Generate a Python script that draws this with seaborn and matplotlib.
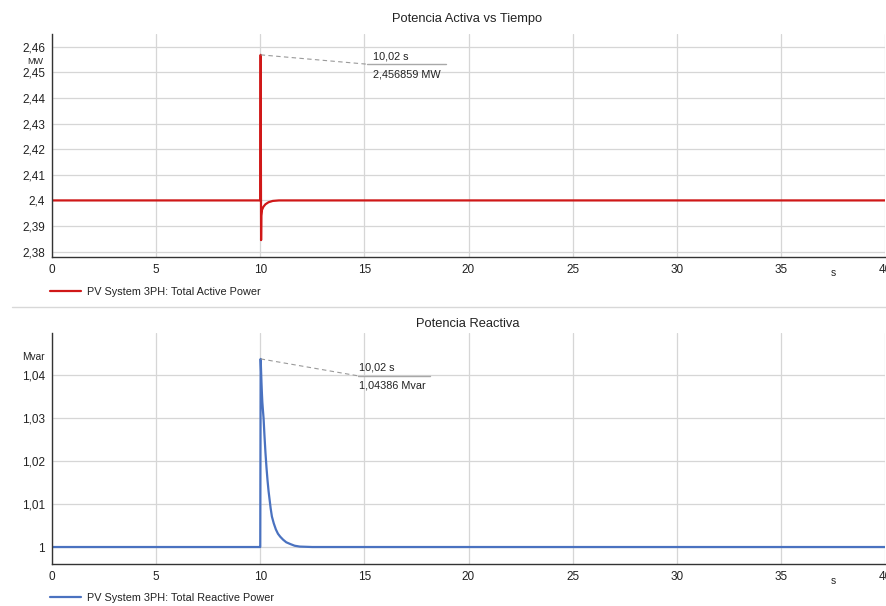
import matplotlib
matplotlib.use("Agg")
import matplotlib.pyplot as plt
from matplotlib.lines import Line2D
from matplotlib.ticker import MultipleLocator, FuncFormatter
import seaborn as sns
import pandas as pd

# Active power samples (s, MW)
t_active = [0.0, 9.99, 10.0, 10.02, 10.03, 10.04, 10.05, 10.08, 10.15, 10.25,
            10.4, 10.6, 10.9, 20.0, 30.0, 40.0]
p_active = [2.4, 2.4, 2.4, 2.456859, 2.42, 2.3845, 2.394, 2.3962, 2.3975, 2.3985,
            2.3993, 2.3998, 2.4, 2.4, 2.4, 2.4]

# Reactive power samples (s, Mvar)
t_reactive = [0.0, 9.99, 10.0, 10.02, 10.04, 10.06, 10.08, 10.1, 10.13, 10.16,
              10.2, 10.25, 10.3, 10.35, 10.4, 10.45, 10.5, 10.56, 10.65, 10.75,
              10.85, 10.96, 11.1, 11.25, 11.44, 11.65, 11.9, 12.5, 20.0, 30.0, 40.0]
q_reactive = [1.0, 1.0, 1.0, 1.04386, 1.0410, 1.0382, 1.0358, 1.0338, 1.0318, 1.0300,
              1.0262, 1.0220, 1.0185, 1.0155, 1.0130, 1.0110, 1.0090, 1.0071, 1.0055, 1.0041,
              1.0031, 1.0024, 1.0017, 1.0011, 1.0007, 1.0003, 1.0001, 1.0, 1.0, 1.0, 1.0]

x_ticks = [0, 5, 10, 15, 20, 25, 30, 35, 40]
active_ticks = [2.38, 2.39, 2.40, 2.41, 2.42, 2.43, 2.44, 2.45, 2.46]
reactive_ticks = [1.00, 1.01, 1.02, 1.03, 1.04]

peak_t = 10.02
peak_active = 2.456859
peak_reactive = 1.04386

active_label = "PV System 3PH: Total Active Power"
reactive_label = "PV System 3PH: Total Reactive Power"

sns.set_style("white")
plt.rcParams["font.family"] = ["Liberation Sans", "DejaVu Sans"]

RED = "#d01818"
BLUE = "#4a72c0"
GRID = "#d6d6d6"
TXT = "#222222"

fig = plt.figure(figsize=(8.87, 6.06), dpi=100)
W, H = 887, 606


def px_axes(l, t, r, b):
    return fig.add_axes([l / W, 1 - b / H, (r - l) / W, (b - t) / H])


def comma(v, _pos=None):
    return f"{v:g}".replace(".", ",")


def style_axes(ax, ylim, yticks, unit, unit_x, unit_y, unit_size):
    ax.set_xlim(0, 40)
    ax.set_ylim(*ylim)
    ax.set_xticks(x_ticks)
    ax.set_yticks(yticks)
    ax.xaxis.set_minor_locator(MultipleLocator(1.25))
    ax.yaxis.set_minor_locator(MultipleLocator(0.0025))
    ax.xaxis.set_major_formatter(FuncFormatter(comma))
    ax.yaxis.set_major_formatter(FuncFormatter(comma))
    ax.grid(True, which="major", color=GRID, linewidth=0.9)
    ax.tick_params(which="major", length=0, labelsize=8.5, labelcolor=TXT, pad=5)
    ax.tick_params(which="minor", direction="in", length=3, color="#c8c8c8", width=0.8)
    for s in ["top", "right"]:
        ax.spines[s].set_visible(False)
    for s in ["left", "bottom"]:
        ax.spines[s].set_color("#333333")
        ax.spines[s].set_linewidth(1.0)
    ax.set_xlabel("")
    ax.set_ylabel("")
    ax.text(37.5, -0.072, "s", transform=ax.get_xaxis_transform(), fontsize=7.5,
            color=TXT, ha="center", va="center")
    ax.text(unit_x / W, unit_y, unit, transform=fig.transFigure, fontsize=unit_size,
            color=TXT, ha="center", va="center")


def callout(ax, peak_v, elbow, line_end, label_value, top_y, bot_y, text_x):
    ax.plot([peak_t, elbow[0]], [peak_v, elbow[1]], color="#9a9a9a",
            linewidth=0.8, linestyle=(0, (4, 3)))
    ax.plot([elbow[0], line_end], [elbow[1], elbow[1]], color="#a8a8a8", linewidth=1.0)
    ax.text(text_x, top_y, f"{peak_t:.2f} s".replace(".", ","), fontsize=7.8,
            color=TXT, ha="left", va="center")
    ax.text(text_x, bot_y, label_value, fontsize=7.8, color=TXT, ha="left", va="center")


# Top panel: active power
ax1 = px_axes(52, 34, 885, 257)
df_a = pd.DataFrame({"t": t_active, "p": p_active})
sns.lineplot(data=df_a, x="t", y="p", ax=ax1, color=RED, linewidth=1.6,
             estimator=None, sort=False)
style_axes(ax1, (2.3779, 2.465), active_ticks, "MW", 35, 1 - 62 / H, 6.5)
callout(ax1, peak_active, (15.14, 2.4532), 18.94,
        f"{peak_active:.6f} MW".replace(".", ","), 2.4564, 2.4493, 15.4)
fig.text(467 / W, 1 - 19 / H, "Potencia Activa vs Tiempo", fontsize=9.3,
         color=TXT, ha="center", va="center")

# Bottom panel: reactive power
ax2 = px_axes(52, 333, 885, 564)
df_r = pd.DataFrame({"t": t_reactive, "q": q_reactive})
sns.lineplot(data=df_r, x="t", y="q", ax=ax2, color=BLUE, linewidth=1.6,
             estimator=None, sort=False)
style_axes(ax2, (0.99604, 1.0499), reactive_ticks, "Mvar", 33, 1 - 357 / H, 7.3)
callout(ax2, peak_reactive, (14.71, 1.0399), 18.17,
        f"{peak_reactive:.5f} Mvar".replace(".", ","), 1.0419, 1.0377, 14.76)
fig.text(468 / W, 1 - 324 / H, "Potencia Reactiva", fontsize=9.3,
         color=TXT, ha="center", va="center")

# Legends below each panel
for ax, color, label, y in [(ax1, RED, active_label, 292), (ax2, BLUE, reactive_label, 598)]:
    handle = Line2D([], [], color=color, linewidth=1.6)
    ax.legend([handle], [label], loc="center left",
              bbox_to_anchor=(50 / W, 1 - y / H), bbox_transform=fig.transFigure,
              frameon=False, fontsize=7.8, handlelength=2.9, handletextpad=0.5,
              borderpad=0, borderaxespad=0, labelcolor=TXT)

# Separator between panels
fig.add_artist(Line2D([12 / W, 1.0], [1 - 307 / H, 1 - 307 / H],
                      transform=fig.transFigure, color="#d8d8d8", linewidth=1.0))

fig.savefig("out.png", dpi=100)
